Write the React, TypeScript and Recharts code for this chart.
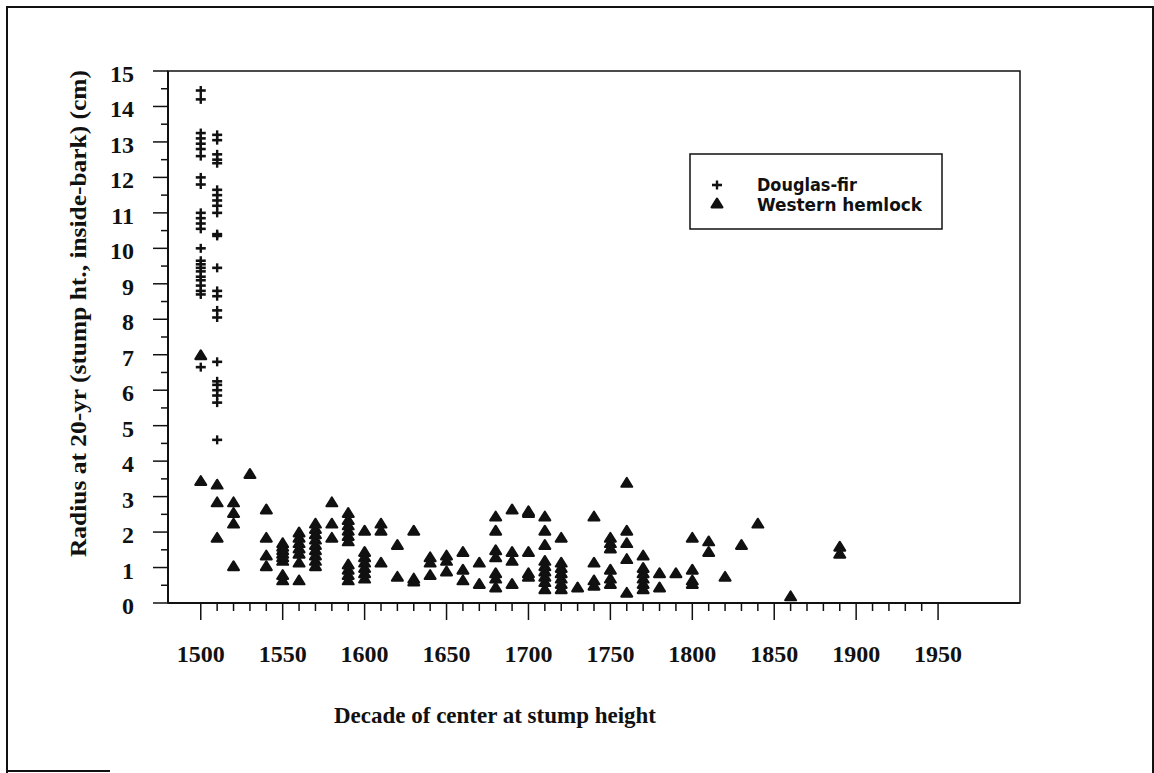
import React from 'react';
import { ScatterChart, Scatter, XAxis, YAxis, ReferenceArea, Legend } from 'recharts';

// ---- data ----
const xTicks = [1500, 1510, 1520, 1530, 1540, 1550, 1560, 1570, 1580, 1590, 1600, 1610, 1620, 1630, 1640, 1650, 1660, 1670, 1680, 1690, 1700, 1710, 1720, 1730, 1740, 1750, 1760, 1770, 1780, 1790, 1800, 1810, 1820, 1830, 1840, 1850, 1860, 1870, 1880, 1890, 1900, 1910, 1920, 1930, 1940, 1950];
const xLabels = [1500, 1550, 1600, 1650, 1700, 1750, 1800, 1850, 1900, 1950];
const yTicks = [0, 0.5, 1, 1.5, 2, 2.5, 3, 3.5, 4, 4.5, 5, 5.5, 6, 6.5, 7, 7.5, 8, 8.5, 9, 9.5, 10, 10.5, 11, 11.5, 12, 12.5, 13, 13.5, 14, 14.5, 15];

const firDecades = [1500, 1510];
const firRadii: number[][] = [
  [14.45, 14.2, 13.25, 13.1, 12.95, 12.8, 12.6, 12.0, 11.8, 11.0, 10.85, 10.7, 10.55, 10.0, 9.65, 9.55, 9.45, 9.35, 9.2, 9.1, 8.95, 8.8, 8.7, 6.65],
  [13.2, 13.05, 12.65, 12.5, 12.4, 11.65, 11.5, 11.35, 11.2, 11.0, 10.4, 10.35, 9.45, 8.8, 8.65, 8.25, 8.05, 6.8, 6.25, 6.15, 6.0, 5.85, 5.65, 4.6],
];

const hemlockDecades = [1500, 1510, 1520, 1530, 1540, 1550, 1560, 1570, 1580, 1590, 1600, 1610, 1620, 1630, 1640, 1650, 1660, 1670, 1680, 1690, 1700, 1710, 1720, 1730, 1740, 1750, 1760, 1770, 1780, 1790, 1800, 1810, 1820, 1830, 1840, 1860, 1890];
const hemlockRadii: number[][] = [
  [7.0, 3.45],
  [3.35, 2.85, 1.85],
  [2.85, 2.55, 2.25, 1.05],
  [3.65],
  [2.65, 1.85, 1.35, 1.05],
  [1.7, 1.6, 1.5, 1.4, 1.3, 1.2, 0.8, 0.65],
  [2.0, 1.85, 1.7, 1.55, 1.4, 1.15, 0.65],
  [2.25, 2.1, 1.95, 1.8, 1.65, 1.5, 1.35, 1.2, 1.05],
  [2.85, 2.25, 1.85],
  [2.55, 2.35, 2.2, 2.05, 1.9, 1.75, 1.1, 0.95, 0.8, 0.65],
  [2.05, 1.45, 1.3, 1.15, 1.0, 0.85, 0.7],
  [2.25, 2.05, 1.15],
  [1.65, 0.75],
  [2.05, 0.7, 0.62],
  [1.3, 1.15, 0.8],
  [1.35, 1.2, 0.9],
  [1.45, 0.95, 0.65],
  [1.15, 0.55],
  [2.45, 2.05, 1.5, 1.3, 0.85, 0.7, 0.45],
  [2.65, 1.45, 1.2, 0.55],
  [2.6, 2.55, 1.45, 0.85, 0.75],
  [2.45, 2.05, 1.65, 1.2, 1.05, 0.9, 0.75, 0.6, 0.4],
  [1.85, 1.15, 1.0, 0.85, 0.7, 0.55, 0.4],
  [0.45],
  [2.45, 1.15, 0.65, 0.5],
  [1.85, 1.7, 1.55, 0.95, 0.7, 0.55],
  [3.4, 2.05, 1.7, 1.25, 0.3],
  [1.35, 1.0, 0.85, 0.7, 0.55, 0.4],
  [0.85, 0.45],
  [0.85],
  [1.85, 0.95, 0.65, 0.55],
  [1.75, 1.45],
  [0.75],
  [1.65],
  [2.25],
  [0.2],
  [1.6, 1.4],
];

const firPoints = firDecades.flatMap((d, i) => firRadii[i].map((r) => ({ x: d, y: r })));
const hemlockPoints = hemlockDecades.flatMap((d, i) => hemlockRadii[i].map((r) => ({ x: d, y: r })));

// ---- style ----
const INK = '#111';
const SERIF = '"Liberation Serif", "Times New Roman", serif';
const SANS = '"DejaVu Sans", sans-serif';

const CrossShape = (p: any) => {
  const { cx, cy } = p;
  return (
    <g>
      <line x1={cx - 5} x2={cx + 5} y1={cy} y2={cy} stroke={INK} strokeWidth={2.6} />
      <line x1={cx} x2={cx} y1={cy - 4.5} y2={cy + 4.5} stroke={INK} strokeWidth={2.4} />
    </g>
  );
};

const TriShape = (p: any) => {
  const { cx, cy } = p;
  return (
    <path
      d={`M${cx},${cy - 4.4} L${cx + 5.4},${cy + 4.3} L${cx - 5.4},${cy + 4.3} Z`}
      fill={INK}
      stroke={INK}
      strokeWidth={2.2}
      strokeLinejoin="round"
    />
  );
};

const XTick = (props: any) => {
  const { x, y, payload } = props;
  const v = payload.value;
  const major = xLabels.includes(v);
  return (
    <g>
      <line x1={x} x2={x} y1={y} y2={y + (major ? 17 : 8)} stroke={INK} strokeWidth={1.5} />
      {major && (
        <text x={x} y={y + 59} textAnchor="middle" fontFamily={SERIF} fontWeight={700} fontSize={24} fill={INK}>
          {v}
        </text>
      )}
    </g>
  );
};

const YTick = (props: any) => {
  const { x, y, payload } = props;
  const v = payload.value;
  const major = Number.isInteger(v);
  return (
    <g>
      <line x1={x - (major ? 15 : 7)} x2={x} y1={y} y2={y} stroke={INK} strokeWidth={1.5} />
      {major && (
        <text x={x - 34} y={y + 11} textAnchor="end" fontFamily={SERIF} fontWeight={700} fontSize={24} fill={INK}>
          {v}
        </text>
      )}
    </g>
  );
};

const LegendBox = () => (
  <svg width={255} height={78} style={{ display: 'block' }}>
    <rect x={1} y={1} width={252} height={75} fill="#fff" stroke={INK} strokeWidth={1.5} />
    <CrossShape cx={28} cy={32} />
    <text x={68} y={38} fontFamily={SANS} fontWeight={700} fontSize={18} fill={INK} textLength={100} lengthAdjust="spacingAndGlyphs">
      Douglas-fir
    </text>
    <TriShape cx={28} cy={50} />
    <text x={68} y={58} fontFamily={SANS} fontWeight={700} fontSize={18} fill={INK} textLength={165} lengthAdjust="spacingAndGlyphs">
      Western hemlock
    </text>
  </svg>
);

export default function App() {
  return (
    <div style={{ position: 'absolute', left: 0, top: 0, width: 1154, height: 773, overflow: 'hidden', background: '#fff' }}>
      <div
        style={{
          position: 'absolute',
          left: 6,
          top: 6,
          width: 1144,
          height: 800,
          borderLeft: `2px solid ${INK}`,
          borderTop: `2px solid ${INK}`,
          borderRight: `2px solid ${INK}`,
        }}
      />
      <div style={{ position: 'absolute', left: 6, top: 770, width: 104, height: 2, background: INK }} />
      <ScatterChart width={1154} height={773} margin={{ top: 71, right: 134, bottom: 110, left: 108 }}>
        <XAxis
          dataKey="x"
          type="number"
          domain={[1480, 2000]}
          ticks={xTicks}
          interval={0}
          tickSize={0}
          tickMargin={0}
          tickLine={false}
          tick={<XTick />}
          axisLine={{ stroke: INK, strokeWidth: 2 }}
          height={60}
          allowDataOverflow
        />
        <YAxis
          dataKey="y"
          type="number"
          domain={[0, 15]}
          ticks={yTicks}
          interval={0}
          tickSize={0}
          tickMargin={0}
          tickLine={false}
          tick={<YTick />}
          axisLine={{ stroke: INK, strokeWidth: 2 }}
          width={60}
          allowDataOverflow
        />
        <ReferenceArea x1={1480} x2={2000} y1={0} y2={15} fill="none" fillOpacity={0} stroke={INK} strokeWidth={1.5} />
        <Scatter name="Douglas-fir" data={firPoints} shape={CrossShape} isAnimationActive={false} />
        <Scatter name="Western hemlock" data={hemlockPoints} shape={TriShape} isAnimationActive={false} />
        <Legend
          layout="horizontal"
          verticalAlign="middle"
          align="center"
          wrapperStyle={{ left: 689, top: 153, width: 255, height: 78 }}
          content={() => <LegendBox />}
        />
        <text x={334} y={723} fontFamily={SERIF} fontWeight={700} fontSize={24} fill={INK} textLength={322} lengthAdjust="spacingAndGlyphs">
          Decade of center at stump height
        </text>
        <text
          transform="translate(86,557) rotate(-90)"
          x={0}
          y={0}
          fontFamily={SERIF}
          fontWeight={700}
          fontSize={24}
          fill={INK}
          textLength={487}
          lengthAdjust="spacingAndGlyphs"
        >
          Radius at 20-yr (stump ht., inside-bark) (cm)
        </text>
      </ScatterChart>
    </div>
  );
}
